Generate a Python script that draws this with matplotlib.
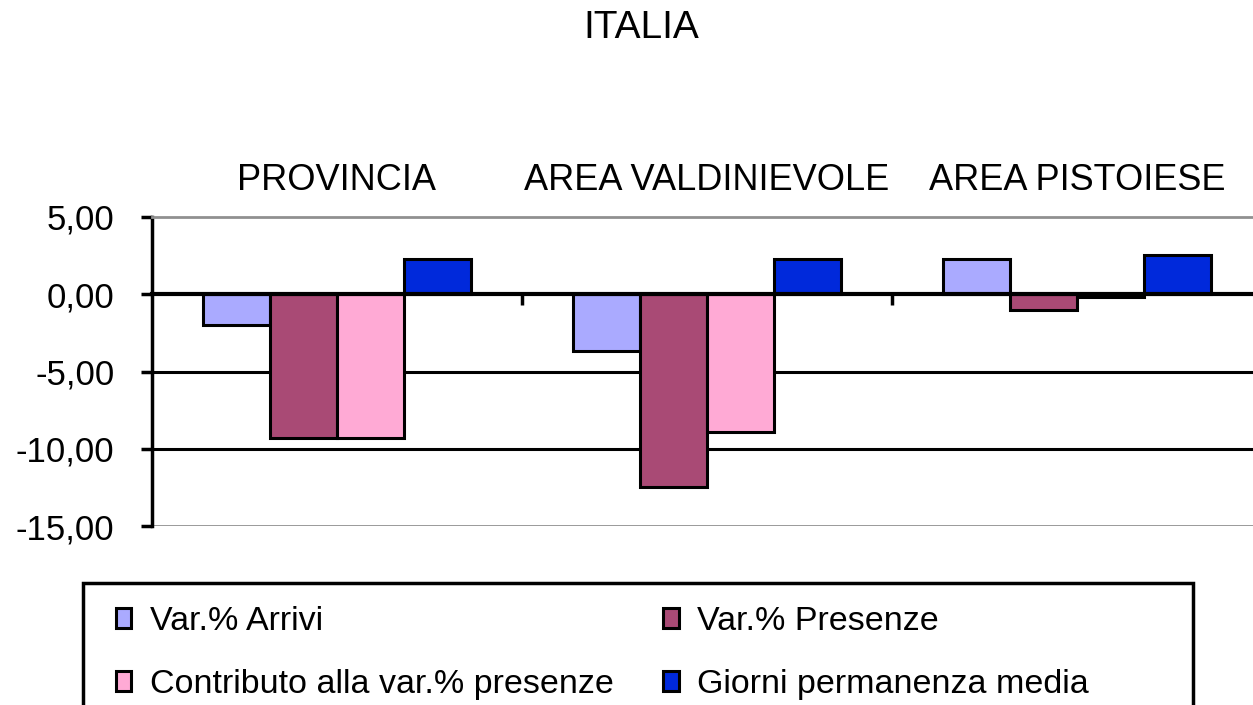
import numpy as np
import matplotlib
matplotlib.use("Agg")
import matplotlib.pyplot as plt
from matplotlib.patches import Rectangle

plt.rcParams['font.family'] = ['Liberation Sans', 'DejaVu Sans']

# === Data ===
areas = ["PROVINCIA", "AREA VALDINIEVOLE", "AREA PISTOIESE"]
arrivi = [-2.0, -3.7, 2.3]
presenze = [-9.3, -12.45, -1.05]
contributo = [-9.3, -8.9, -0.15]
giorni = [2.3, 2.3, 2.55]

series_names = ["Var.% Arrivi", "Var.% Presenze",
                "Contributo alla var.% presenze", "Giorni permanenza media"]
colors = ["#AAAAFF", "#A94A75", "#FFAAD5", "#0029DB"]

yticks = [5, 0, -5, -10, -15]
ytick_labels = ["5,00", "0,00", "-5,00", "-10,00", "-15,00"]

# === Figure ===
fig = plt.figure(figsize=(12.53, 7.05), dpi=100)
ax = fig.add_axes([152/1253, 1 - 526/705, (1262 - 152)/1253, (526 - 217)/705])

x = np.arange(len(areas))
w = 0.181
bars = []
for i, vals in enumerate([arrivi, presenze, contributo, giorni]):
    b = ax.bar(x + (i - 1.5) * w, vals, w, color=colors[i], edgecolor="black",
               linewidth=2.2, label=series_names[i], zorder=3)
    bars.append(b)

ax.set_xlim(-0.5, 2.5)
ax.set_ylim(-15, 5)

# gridlines
for yv in [-5, -10]:
    ax.axhline(yv, color="black", lw=2.2, zorder=1)
ax.axhline(-15, color="#909090", lw=2, zorder=1)

# axes / spines
ax.spines["right"].set_visible(False)
ax.spines["top"].set_color("#909090")
ax.spines["top"].set_linewidth(2)
ax.spines["left"].set_linewidth(2.5)
ax.spines["bottom"].set_position(("data", 0))
ax.spines["bottom"].set_linewidth(3)
ax.spines["bottom"].set_zorder(4)

ax.set_yticks(yticks)
ax.set_yticklabels(ytick_labels, fontsize=25)
ax.tick_params(axis="y", length=8, width=2.5, pad=19)

ax.set_xticks([0.5, 1.5])
ax.set_xticklabels([])
ax.tick_params(axis="x", length=8, width=2.5, direction="out")

# category labels at top
top = ax.secondary_xaxis("top")
top.set_xticks(x)
top.set_xticklabels(areas, fontsize=26)
top.tick_params(length=0, pad=14)
top.spines["top"].set_visible(False)

fig.text(641/1253, 1 - 28/705, "ITALIA", fontsize=28, ha="center", va="center")

# legend box (cut off at bottom)
fig.patches.append(Rectangle((83/1253, -0.1), (1193 - 83)/1253, 0.1 + (705 - 583)/705,
                             transform=fig.transFigure, fill=False,
                             edgecolor="black", lw=2.5))
order = [0, 2, 1, 3]
fig.legend([bars[i] for i in order], [series_names[i] for i in order],
           loc="upper left", bbox_to_anchor=(116/1253, 1 - 606/705), ncol=2,
           frameon=False, fontsize=24.5, handlelength=0.45, handleheight=0.5,
           handletextpad=0.55, labelspacing=0.94, columnspacing=1.45,
           borderaxespad=0, borderpad=0)

fig.savefig("out.png", dpi=100)
